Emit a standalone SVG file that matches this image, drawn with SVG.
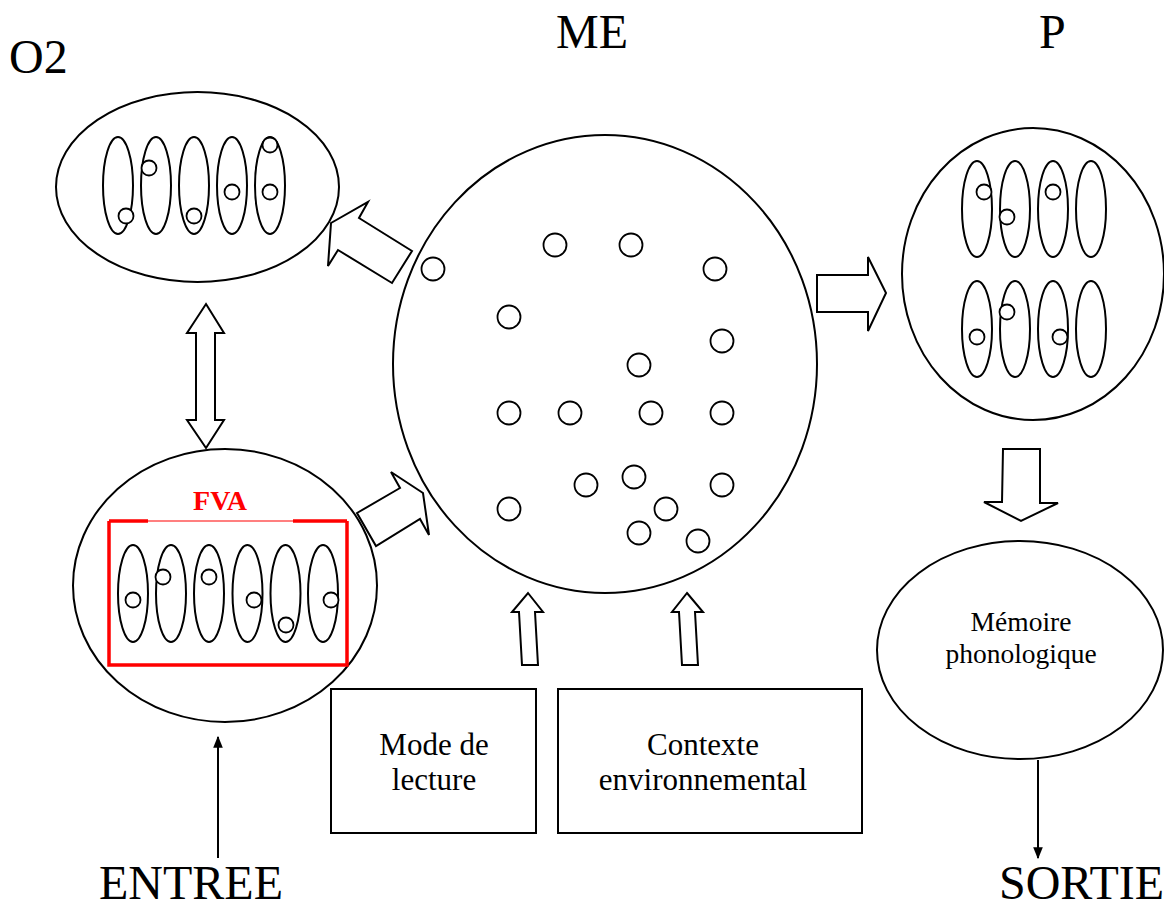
<svg xmlns="http://www.w3.org/2000/svg" width="1164" height="915" viewBox="0 0 1164 915">
<style>
.s{fill:none;stroke:#000;stroke-width:2}
.w{fill:#fff;stroke:#000;stroke-width:2}
.c{fill:#fff;stroke:#000;stroke-width:1.8}
.t{font-family:"Liberation Serif","Times New Roman",serif;fill:#000}
.big{font-size:48px}
.mid{font-size:31px}
.sm{font-size:27.5px}
</style>
<defs>
<marker id="ah2" viewBox="0 0 10 10" refX="9" refY="5" markerWidth="12" markerHeight="12" orient="auto" markerUnits="userSpaceOnUse">
<path d="M0,1 L10,5 L0,9 z" fill="#000"/>
</marker>
</defs>
<rect width="1164" height="915" fill="#fff"/>

<text class="t big" x="9" y="73">O2</text>
<text class="t big" x="556" y="48">ME</text>
<text class="t big" x="1039" y="48">P</text>
<text class="t big" x="99" y="899">ENTREE</text>
<text class="t big" x="999" y="899">SORTIE</text>

<g id="O2">
<ellipse class="s" cx="197.5" cy="187" rx="141.5" ry="95"/>
<ellipse class="s" cx="118" cy="185.5" rx="15" ry="48.5"/>
<ellipse class="s" cx="156" cy="185.5" rx="15" ry="48.5"/>
<ellipse class="s" cx="194" cy="185.5" rx="15" ry="48.5"/>
<ellipse class="s" cx="232" cy="185.5" rx="15" ry="48.5"/>
<ellipse class="s" cx="270" cy="185.5" rx="15" ry="48.5"/>
<circle class="c" cx="126" cy="216" r="7.5"/>
<circle class="c" cx="149" cy="168" r="7.5"/>
<circle class="c" cx="194" cy="216" r="7.5"/>
<circle class="c" cx="232" cy="192" r="7.5"/>
<circle class="c" cx="270" cy="145" r="7.5"/>
<circle class="c" cx="270" cy="192" r="7.5"/>
</g>

<g id="FVA">
<ellipse class="s" cx="225" cy="585.5" rx="152" ry="136.5"/>
<path d="M109,521 L109,665 L347,665 L347,521" fill="none" stroke="#f00" stroke-width="3.5"/>
<path d="M109,521 L148,521 M293,521 L347,521" fill="none" stroke="#f00" stroke-width="3.5"/>
<path d="M148,521 L293,521" fill="none" stroke="#f00" stroke-width="1.2"/>
<text class="t" x="220" y="510" font-size="28" font-weight="bold" text-anchor="middle" style="fill:#f00">FVA</text>
<ellipse class="s" cx="133" cy="593.5" rx="15" ry="48.5"/>
<ellipse class="s" cx="171" cy="593.5" rx="15" ry="48.5"/>
<ellipse class="s" cx="209" cy="593.5" rx="15" ry="48.5"/>
<ellipse class="s" cx="247.5" cy="593.5" rx="15" ry="48.5"/>
<ellipse class="s" cx="285.5" cy="593.5" rx="15" ry="48.5"/>
<ellipse class="s" cx="323" cy="593.5" rx="15" ry="48.5"/>
<circle class="c" cx="133" cy="600" r="7.5"/>
<circle class="c" cx="163" cy="577" r="7.5"/>
<circle class="c" cx="209" cy="577" r="7.5"/>
<circle class="c" cx="254" cy="600" r="7.5"/>
<circle class="c" cx="286" cy="625" r="7.5"/>
<circle class="c" cx="331" cy="600" r="7.5"/>
</g>

<g id="ME">
<ellipse class="s" cx="605" cy="364" rx="212" ry="229"/>
<circle class="c" cx="433" cy="269" r="11.5"/>
<circle class="c" cx="555" cy="245" r="11.5"/>
<circle class="c" cx="631" cy="245" r="11.5"/>
<circle class="c" cx="715" cy="269" r="11.5"/>
<circle class="c" cx="509" cy="317" r="11.5"/>
<circle class="c" cx="722" cy="341" r="11.5"/>
<circle class="c" cx="639" cy="365" r="11.5"/>
<circle class="c" cx="509" cy="413" r="11.5"/>
<circle class="c" cx="570" cy="413" r="11.5"/>
<circle class="c" cx="651" cy="413" r="11.5"/>
<circle class="c" cx="722" cy="413" r="11.5"/>
<circle class="c" cx="634" cy="477" r="11.5"/>
<circle class="c" cx="586" cy="485" r="11.5"/>
<circle class="c" cx="722" cy="485" r="11.5"/>
<circle class="c" cx="509" cy="509" r="11.5"/>
<circle class="c" cx="666" cy="509" r="11.5"/>
<circle class="c" cx="639" cy="533" r="11.5"/>
<circle class="c" cx="698" cy="541" r="11.5"/>
</g>

<g id="P">
<ellipse class="s" cx="1033" cy="274" rx="131" ry="146"/>
<ellipse class="s" cx="977" cy="209" rx="15" ry="48"/>
<ellipse class="s" cx="1015" cy="209" rx="15" ry="48"/>
<ellipse class="s" cx="1053" cy="209" rx="15" ry="48"/>
<ellipse class="s" cx="1091" cy="209" rx="15" ry="48"/>
<ellipse class="s" cx="977" cy="329" rx="15" ry="48"/>
<ellipse class="s" cx="1015" cy="329" rx="15" ry="48"/>
<ellipse class="s" cx="1053" cy="329" rx="15" ry="48"/>
<ellipse class="s" cx="1091" cy="329" rx="15" ry="48"/>
<circle class="c" cx="984" cy="192" r="7.5"/>
<circle class="c" cx="1007" cy="217" r="7.5"/>
<circle class="c" cx="1053" cy="192" r="7.5"/>
<circle class="c" cx="977" cy="337" r="7.5"/>
<circle class="c" cx="1007" cy="312" r="7.5"/>
<circle class="c" cx="1060" cy="337" r="7.5"/>
</g>

<g id="memoire">
<ellipse class="s" cx="1020" cy="650" rx="143" ry="109"/>
<text class="t sm" x="1021" y="631" text-anchor="middle">Mémoire</text>
<text class="t sm" x="1021" y="663" text-anchor="middle">phonologique</text>
</g>

<g id="mode">
<rect class="s" x="331" y="689" width="205" height="144"/>
<text class="t mid" x="434" y="755" text-anchor="middle">Mode de</text>
<text class="t mid" x="434" y="790" text-anchor="middle">lecture</text>
</g>

<g id="contexte">
<rect class="s" x="558" y="689" width="304" height="144"/>
<text class="t mid" x="703" y="755" text-anchor="middle">Contexte</text>
<text class="t mid" x="703" y="790" text-anchor="middle">environnemental</text>
</g>

<g id="connectors">
<polygon class="w" points="331,223 368,202 359,218 412,251 392,283 338,250 328,266"/>
<polygon class="w" points="357,513 400,488 391,472 423,493 429,535 420,519 376,546"/>
<polygon class="w" points="817,275 868,275 868,257 886,293 868,331 868,312 817,312"/>
<polygon class="w" points="1003,449 1040,449 1040,503 1058,503 1021,521 984,502 1002,502"/>
<polygon class="w" points="206,304 224,333 215,333 215,420 224,420 206,448 187,420 196,420 196,333 187,333"/>
<polygon class="w" points="528,593 543,612 535,612 538,665 522,665 519,612 512,612"/>
<polygon class="w" points="687,593 703,612 695,612 698,665 682,665 679,612 672,612"/>
<line x1="218" y1="858" x2="218" y2="737" stroke="#000" stroke-width="2" marker-end="url(#ah2)"/>
<line x1="1038" y1="760" x2="1038" y2="858" stroke="#000" stroke-width="2" marker-end="url(#ah2)"/>
</g>
</svg>
